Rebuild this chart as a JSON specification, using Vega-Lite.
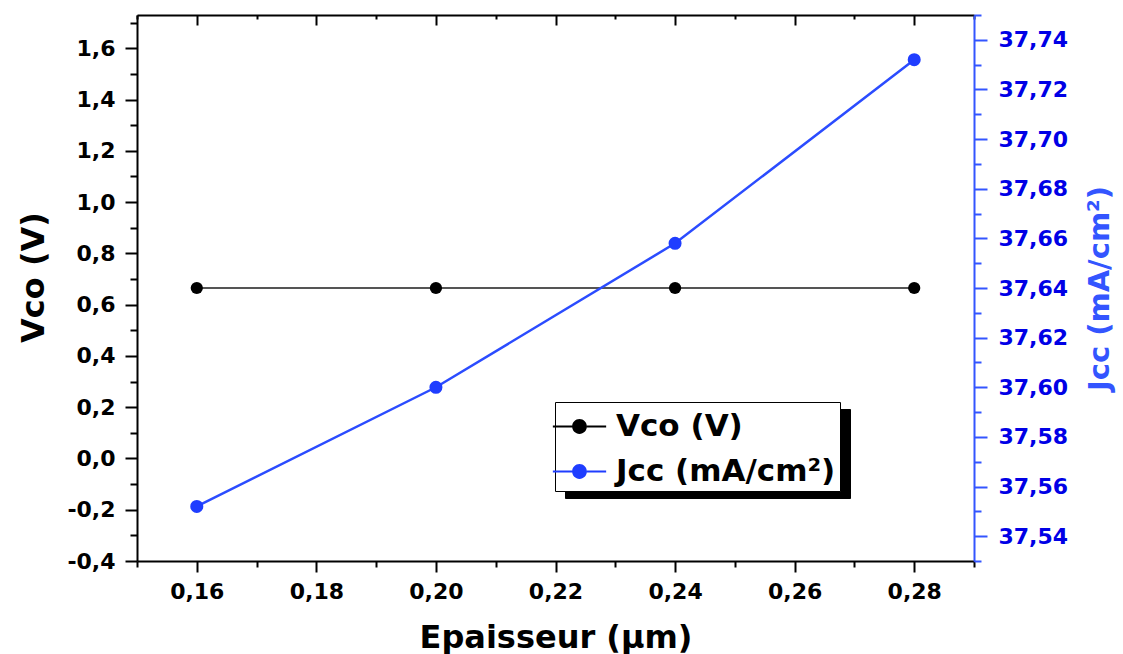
{
  "$schema": "https://vega.github.io/schema/vega-lite/v6.json",
  "width": 837,
  "height": 546,
  "autosize": {"type": "none"},
  "padding": {"left": 137, "top": 15, "right": 149, "bottom": 93},
  "background": "white",
  "data": {
    "values": [
      {"e": 0.16, "vco": 0.665, "jcc": 37.552},
      {"e": 0.20, "vco": 0.665, "jcc": 37.600},
      {"e": 0.24, "vco": 0.665, "jcc": 37.658},
      {"e": 0.28, "vco": 0.665, "jcc": 37.732}
    ]
  },
  "config": {
    "view": {"stroke": null},
    "locale": {
      "number": {"decimal": ",", "thousands": ".", "grouping": [3], "currency": ["", " €"], "minus": "-"}
    },
    "axis": {
      "grid": false,
      "labelFont": "DejaVu Sans",
      "labelFontWeight": "bold",
      "labelFontSize": 22,
      "labelColor": "black",
      "titleFont": "DejaVu Sans",
      "titleFontWeight": "bold",
      "titleFontSize": 32,
      "titleColor": "black",
      "domainColor": "black",
      "domainWidth": 2,
      "tickColor": "black",
      "tickWidth": 2
    }
  },
  "layer": [
    {
      "layer": [
        {
          "mark": {"type": "line", "color": "#555555", "strokeWidth": 2},
          "encoding": {
            "x": {
              "field": "e", "type": "quantitative",
              "scale": {"domain": [0.15, 0.29], "nice": false, "zero": false},
              "axis": {
                "orient": "bottom",
                "title": "Epaisseur (µm)",
                "values": [0.16, 0.18, 0.20, 0.22, 0.24, 0.26, 0.28],
                "format": ".2f",
                "tickSize": 11,
                "labelPadding": 9,
                "titlePadding": 20
              }
            },
            "y": {
              "field": "vco", "type": "quantitative",
              "scale": {"domain": [-0.4, 1.73], "nice": false, "zero": false},
              "axis": {
                "orient": "left",
                "title": "Vco (V)",
                "titleY": 262,
                "values": [-0.4, -0.2, 0, 0.2, 0.4, 0.6, 0.8, 1.0, 1.2, 1.4, 1.6],
                "format": ".1f",
                "tickSize": 12,
                "labelPadding": 10,
                "titlePadding": 16
              }
            }
          }
        },
        {
          "mark": {"type": "point", "filled": true, "size": 150, "opacity": 1},
          "encoding": {
            "x": {
              "field": "e", "type": "quantitative",
              "axis": {
                "orient": "bottom",
                "title": null,
                "labels": false,
                "domain": false,
                "values": [0.15, 0.17, 0.19, 0.21, 0.23, 0.25, 0.27, 0.29],
                "tickSize": 6
              }
            },
            "y": {
              "field": "vco", "type": "quantitative",
              "axis": {
                "orient": "left",
                "title": null,
                "labels": false,
                "domain": false,
                "values": [-0.3, -0.1, 0.1, 0.3, 0.5, 0.7, 0.9, 1.1, 1.3, 1.5, 1.7],
                "tickSize": 7
              }
            },
            "color": {
              "datum": "Vco (V)",
              "type": "nominal",
              "scale": {"domain": ["Vco (V)", "Jcc (mA/cm²)"], "range": ["#000000", "#1f3dff"]},
              "legend": {
                "orient": "none",
                "legendX": 418,
                "legendY": 387,
                "zindex": 2,
                "title": null,
                "strokeColor": "black",
                "fillColor": "white",
                "padding": 4,
                "labelFont": "DejaVu Sans",
                "labelFontWeight": "bold",
                "labelFontSize": 31,
                "labelColor": "black",
                "labelOffset": 16,
                "labelLimit": 400,
                "symbolType": "M-1.3,-0.05H-0.36V0.05H-1.3Z M0.36,-0.05H1.3V0.05H0.36Z M-0.36,0A0.36,0.36,0,1,1,0.36,0A0.36,0.36,0,1,1,-0.36,0Z",
                "symbolSize": 1681,
                "symbolStrokeWidth": 0,
                "rowPadding": 9
              }
            }
          }
        }
      ],
      "resolve": {"axis": {"x": "independent", "y": "independent"}}
    },
    {
      "layer": [
        {
          "mark": {"type": "line", "color": "#2b4cff", "strokeWidth": 2.5},
          "encoding": {
            "x": {
              "field": "e", "type": "quantitative",
              "axis": {
                "orient": "top",
                "title": null,
                "labels": false,
                "values": [0.16, 0.18, 0.20, 0.22, 0.24, 0.26, 0.28],
                "tickSize": -10
              }
            },
            "y": {
              "field": "jcc", "type": "quantitative",
              "scale": {"domain": [37.53, 37.75], "nice": false, "zero": false},
              "axis": {
                "orient": "right",
                "title": "Jcc (mA/cm²)",
                "titleAngle": 270,
                "titleBaseline": "top",
                "titleColor": "#3355ff",
                "titleFontSize": 29,
                "titlePadding": 18,
                "values": [37.54, 37.56, 37.58, 37.60, 37.62, 37.64, 37.66, 37.68, 37.70, 37.72, 37.74],
                "format": ".2f",
                "labelColor": "#0000e6",
                "domainColor": "#3355ff",
                "tickColor": "#3355ff",
                "tickSize": 13,
                "labelPadding": 11
              }
            },
            "opacity": {
              "datum": "b",
              "type": "nominal",
              "scale": {"domain": ["a", "b"], "range": [1, 1]},
              "legend": {
                "orient": "none",
                "legendX": 428,
                "legendY": 394,
                "zindex": 1,
                "title": null,
                "strokeColor": "black",
                "fillColor": "black",
                "padding": 4,
                "labelFont": "DejaVu Sans",
                "labelFontWeight": "bold",
                "labelFontSize": 31,
                "labelColor": "black",
                "labelOffset": 16,
                "labelLimit": 400,
                "labelExpr": "datum.label == 'a' ? 'Vco (V)' : 'Jcc (mA/cm²)'",
                "symbolType": "M-1.3,-0.05H-0.36V0.05H-1.3Z M0.36,-0.05H1.3V0.05H0.36Z M-0.36,0A0.36,0.36,0,1,1,0.36,0A0.36,0.36,0,1,1,-0.36,0Z",
                "symbolSize": 1681,
                "symbolFillColor": "black",
                "symbolStrokeColor": "black",
                "symbolStrokeWidth": 0,
                "rowPadding": 9
              }
            }
          }
        },
        {
          "mark": {"type": "point", "filled": true, "size": 170, "opacity": 1},
          "encoding": {
            "x": {
              "field": "e", "type": "quantitative",
              "axis": {
                "orient": "top",
                "title": null,
                "labels": false,
                "domain": false,
                "values": [0.15, 0.17, 0.19, 0.21, 0.23, 0.25, 0.27, 0.29],
                "tickSize": -4
              }
            },
            "y": {
              "field": "jcc", "type": "quantitative",
              "axis": {
                "orient": "right",
                "title": null,
                "labels": false,
                "domain": false,
                "values": [37.53, 37.55, 37.57, 37.59, 37.61, 37.63, 37.65, 37.67, 37.69, 37.71, 37.73, 37.75],
                "tickColor": "#3355ff",
                "tickSize": 7
              }
            },
            "color": {"datum": "Jcc (mA/cm²)", "type": "nominal"}
          }
        }
      ],
      "resolve": {"axis": {"x": "independent", "y": "independent"}}
    }
  ],
  "resolve": {
    "scale": {"y": "independent"},
    "axis": {"x": "independent", "y": "independent"}
  }
}
